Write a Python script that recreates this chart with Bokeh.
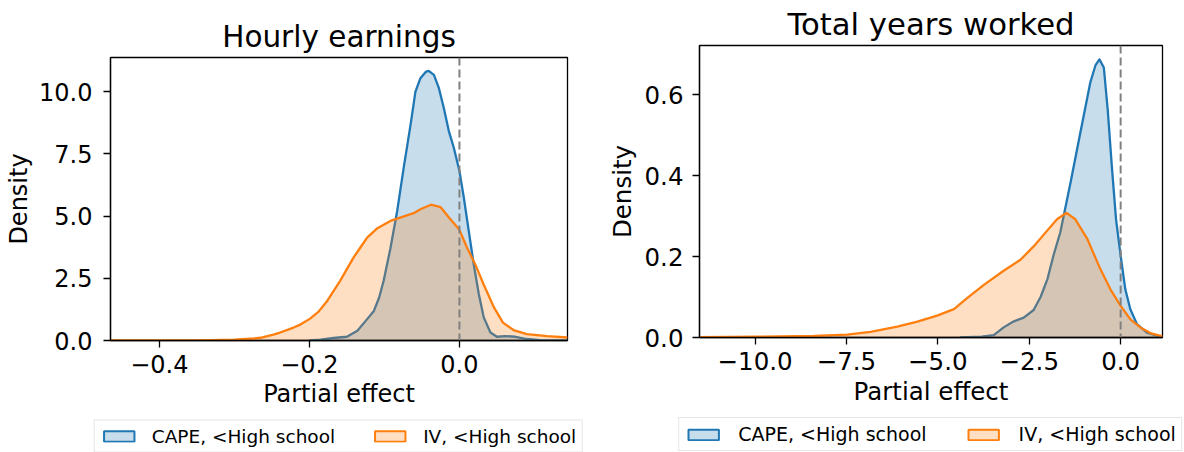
from bokeh.plotting import figure
from bokeh.models import Range1d, FixedTicker, Span, Legend, LegendItem
from bokeh.embed import file_html
from bokeh.resources import INLINE

# ---------------- data ----------------
he_title = "Hourly earnings"
he_cape_x = [-0.200, -0.185, -0.168, -0.150, -0.136, -0.123, -0.114, -0.107, -0.101, -0.092,
             -0.083, -0.074, -0.065, -0.0587, -0.052, -0.045, -0.041, -0.034, -0.0276, -0.021,
             -0.0142, -0.0076, 0.0, 0.0058, 0.0124, 0.019, 0.0258, 0.0324, 0.0413, 0.050,
             0.061, 0.0747, 0.090, 0.108, 0.144]
he_cape_y = [0.0, 0.03, 0.10, 0.15, 0.39, 0.86, 1.19, 1.73, 2.40, 3.70,
             5.20, 7.00, 8.70, 10.00, 10.55, 10.80, 10.84, 10.68, 10.17, 9.37,
             8.43, 7.76, 6.82, 5.75, 4.41, 3.07, 1.87, 0.93, 0.32, 0.15,
             0.18, 0.15, 0.06, 0.01, 0.0]
he_iv_x = [-0.465, -0.360, -0.330, -0.300, -0.274, -0.265, -0.248, -0.239, -0.221, -0.212,
           -0.199, -0.188, -0.176, -0.159, -0.141, -0.132, -0.123, -0.110, -0.092, -0.070,
           -0.061, -0.052, -0.038, -0.025, -0.014, 0.0, 0.010, 0.021, 0.032, 0.046,
           0.058, 0.072, 0.090, 0.117, 0.144]
he_iv_y = [0.0, 0.0, 0.01, 0.03, 0.08, 0.11, 0.24, 0.32, 0.52, 0.64,
           0.88, 1.15, 1.60, 2.40, 3.34, 3.74, 4.14, 4.50, 4.81, 5.03,
           5.12, 5.28, 5.46, 5.36, 4.95, 4.45, 3.74, 3.07, 2.27, 1.33,
           0.72, 0.42, 0.26, 0.18, 0.12]
he_xrange = (-0.465, 0.144)
he_yrange = (0.0, 11.38)
he_xticks = [-0.4, -0.2, 0.0]
he_xlabels = ["\u22120.4", "\u22120.2", "0.0"]
he_yticks = [0.0, 2.5, 5.0, 7.5, 10.0]
he_ylabels = ["0.0", "2.5", "5.0", "7.5", "10.0"]

yw_title = "Total years worked"
yw_cape_x = [-4.40, -3.80, -3.47, -3.20, -2.92, -2.65, -2.38, -2.19, -2.00, -1.83,
             -1.65, -1.37, -1.10, -0.83, -0.69, -0.58, -0.46, -0.355, -0.235, -0.126,
             0.0, 0.128, 0.265, 0.447, 0.72, 1.08, 1.145]
yw_cape_y = [0.0, 0.002, 0.006, 0.025, 0.040, 0.049, 0.068, 0.100, 0.145, 0.205,
             0.260, 0.383, 0.507, 0.630, 0.672, 0.687, 0.667, 0.564, 0.416, 0.292,
             0.202, 0.119, 0.070, 0.033, 0.012, 0.002, 0.001]
yw_iv_x = [-11.52, -9.93, -8.39, -7.48, -6.84, -6.11, -5.56, -5.02, -4.56, -4.20,
           -3.74, -3.20, -2.74, -2.38, -2.01, -1.74, -1.48, -1.24, -0.92, -0.555,
           -0.28, 0.0, 0.265, 0.54, 0.81, 1.145]
yw_iv_y = [0.001, 0.002, 0.004, 0.007, 0.014, 0.027, 0.039, 0.054, 0.070, 0.097,
           0.130, 0.165, 0.192, 0.225, 0.264, 0.292, 0.308, 0.292, 0.245, 0.169,
           0.119, 0.078, 0.045, 0.025, 0.011, 0.003]
yw_xrange = (-11.52, 1.145)
yw_yrange = (0.0, 0.7213)
yw_xticks = [-10.0, -7.5, -5.0, -2.5, 0.0]
yw_xlabels = ["\u221210.0", "\u22127.5", "\u22125.0", "\u22122.5", "0.0"]
yw_yticks = [0.0, 0.2, 0.4, 0.6]
yw_ylabels = ["0.0", "0.2", "0.4", "0.6"]

series_names = ["CAPE, <High school", "IV, <High school"]
series_colors = ["#1f77b4", "#ff7f0e"]
x_label = "Partial effect"
y_label = "Density"
ref_line = 0.0

FONT = "DejaVu Sans"


def panel(title, curves, xr, yr, xt, xl, yt, yl, geom, fs, title_fs,
          ystand, ylab_stand, left_px):
    fw, fh, bl, bt, br, bb = geom
    p = figure(frame_width=fw, frame_height=fh, min_border_left=bl, min_border_top=bt,
               min_border_right=br, min_border_bottom=bb,
               x_range=Range1d(*xr), y_range=Range1d(*yr),
               output_backend="svg", toolbar_location=None, title=title)
    p.styles = {"position": "absolute", "left": f"{left_px}px", "top": "0px"}
    p.title.text_font = FONT
    p.title.text_font_size = f"{title_fs:.1f}px"
    p.title.text_font_style = "normal"
    p.title.text_color = "black"
    p.title.align = "center"
    p.title.standoff = 8
    p.xgrid.visible = False
    p.ygrid.visible = False
    p.outline_line_color = "black"
    p.outline_line_width = 1.3
    p.outline_line_alpha = 1.0
    p.background_fill_color = "white"
    p.border_fill_color = "white"

    for ax, ticks, labels in ((p.xaxis[0], xt, xl), (p.yaxis[0], yt, yl)):
        ax.ticker = FixedTicker(ticks=ticks)
        ax.major_label_overrides = {t: s for t, s in zip(ticks, labels)}
        ax.minor_tick_line_color = None
        ax.major_tick_in = 0
        ax.major_tick_out = 7
        ax.major_tick_line_width = 1.3
        ax.major_tick_line_color = "black"
        ax.axis_line_color = "black"
        ax.axis_line_width = 1.3
        ax.major_label_text_font = FONT
        ax.major_label_text_font_size = f"{fs:.1f}px"
        ax.major_label_text_color = "black"
        ax.axis_label_text_font = FONT
        ax.axis_label_text_font_size = f"{fs:.1f}px"
        ax.axis_label_text_font_style = "normal"
        ax.axis_label_text_color = "black"
    p.xaxis.axis_label = x_label
    p.yaxis.axis_label = y_label
    p.xaxis.major_label_standoff = 7
    p.xaxis.axis_label_standoff = 4
    p.yaxis.major_label_standoff = ystand
    p.yaxis.axis_label_standoff = ylab_stand

    for (xs, ys), col in zip(curves, series_colors):
        p.varea(x=xs, y1=[0.0] * len(xs), y2=ys, fill_color=col, fill_alpha=0.25)
        p.line(x=xs, y=ys, line_color=col, line_width=2.3, line_join="round")

    p.add_layout(Span(location=ref_line, dimension="height", line_color="gray",
                      line_width=2, line_dash="8 4"))
    return p


def legend_box(curves, left_px, top_px, width, height, leg_fs, stand, space):
    # legend-only figure; the proxy patches reuse the series data but lie outside its view
    f = figure(width=width, height=height, min_border=0, x_axis_type=None, y_axis_type=None,
               x_range=Range1d(1000, 1001), y_range=Range1d(1000, 1001),
               output_backend="svg", toolbar_location=None)
    f.styles = {"position": "absolute", "left": f"{left_px}px", "top": f"{top_px}px"}
    f.outline_line_color = None
    f.background_fill_alpha = 0
    f.border_fill_alpha = 0
    items = []
    for (xs, ys), name, col in zip(curves, series_names, series_colors):
        proxy = f.patch(x=xs, y=ys, fill_color=col, fill_alpha=0.25, line_color=col, line_width=2)
        items.append(LegendItem(label=name, renderers=[proxy]))
    leg = Legend(items=items, orientation="horizontal", location="center")
    leg.glyph_width = 38
    leg.glyph_height = 13
    leg.label_standoff = stand
    leg.spacing = space
    leg.padding = 5
    leg.margin = 0
    leg.label_text_font = FONT
    leg.label_text_font_size = f"{leg_fs:.1f}px"
    leg.label_text_color = "black"
    leg.border_line_color = "#cccccc"
    leg.border_line_width = 1
    leg.background_fill_color = "white"
    leg.background_fill_alpha = 0.8
    f.add_layout(leg, "center")
    return f


he_curves = [(he_cape_x, he_cape_y), (he_iv_x, he_iv_y)]
yw_curves = [(yw_cape_x, yw_cape_y), (yw_iv_x, yw_iv_y)]

p1 = panel(he_title, he_curves, he_xrange, he_yrange,
           he_xticks, he_xlabels, he_yticks, he_ylabels,
           (457, 283, 110, 57, 25, 112), 24.0, 29.5, 11, 3, 0)
p2 = panel(yw_title, yw_curves, yw_xrange, yw_yrange,
           yw_xticks, yw_xlabels, yw_yticks, yw_ylabels,
           (463, 292, 107, 43, 22, 117), 24.5, 30.7, 9, 5, 592)
l1 = legend_box(he_curves, 88, 415, 500, 42, 18.5, 14, 36)
l2 = legend_box(yw_curves, 670, 413, 520, 42, 19.0, 16, 38)

open("out.html", "w").write(file_html([p1, p2, l1, l2], INLINE))
